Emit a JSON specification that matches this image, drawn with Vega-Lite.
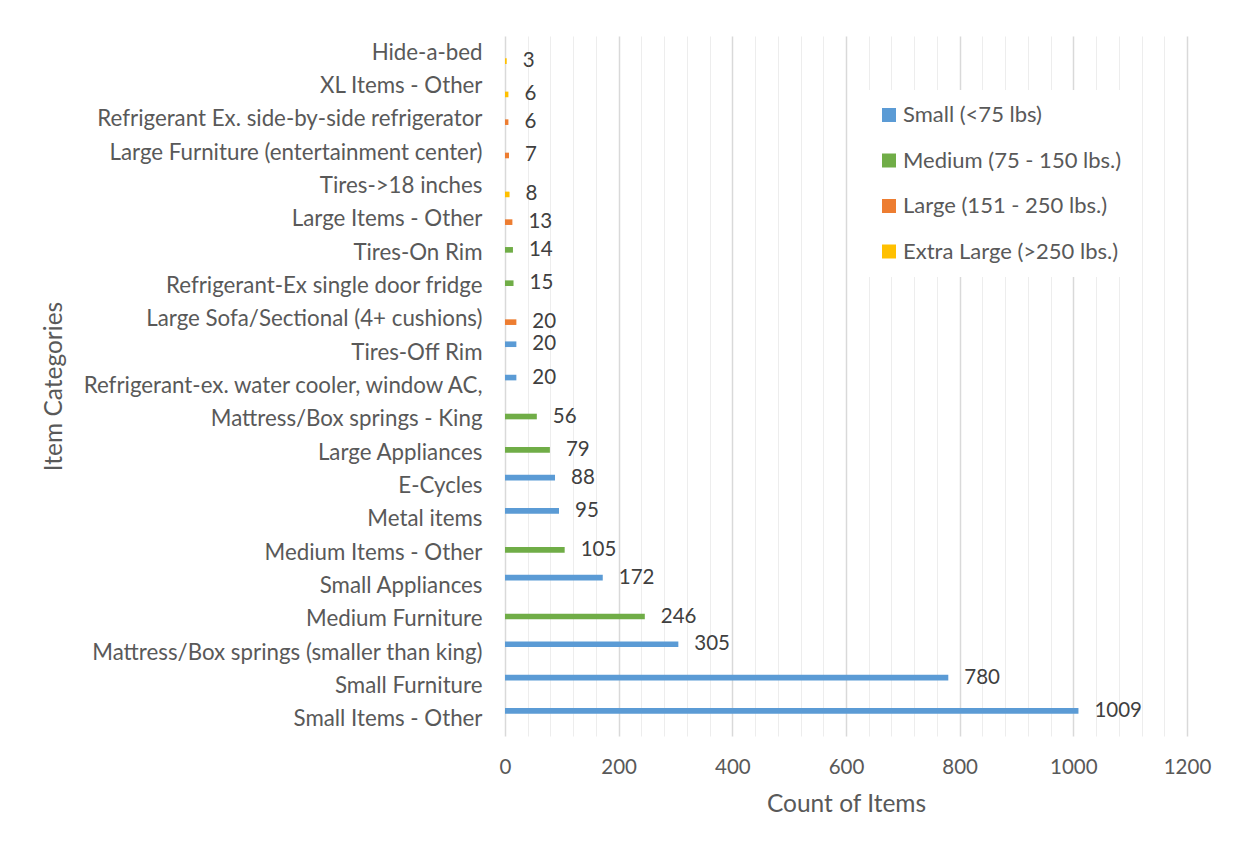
{
  "$schema": "https://vega.github.io/schema/vega-lite/v6.json",
  "width": 682,
  "height": 700,
  "autosize": {"type": "none"},
  "padding": {"left": 505, "top": 36, "right": 65, "bottom": 117},
  "background": "white",
  "config": {
    "font": "Lato",
    "view": {"stroke": null},
    "axis": {
      "labelColor": "#595959",
      "titleColor": "#595959",
      "titleFontWeight": "normal",
      "labelFont": "Lato",
      "titleFont": "Lato"
    }
  },
  "data": {
    "values": [
      {"item": "Hide-a-bed", "count": 3, "size": "Extra Large (>250 lbs.)"},
      {"item": "XL Items - Other", "count": 6, "size": "Extra Large (>250 lbs.)"},
      {"item": "Refrigerant Ex. side-by-side refrigerator", "count": 6, "size": "Large (151 - 250 lbs.)"},
      {"item": "Large Furniture (entertainment center)", "count": 7, "size": "Large (151 - 250 lbs.)"},
      {"item": "Tires->18 inches", "count": 8, "size": "Extra Large (>250 lbs.)"},
      {"item": "Large Items - Other", "count": 13, "size": "Large (151 - 250 lbs.)"},
      {"item": "Tires-On Rim", "count": 14, "size": "Medium (75 - 150 lbs.)"},
      {"item": "Refrigerant-Ex single door fridge", "count": 15, "size": "Medium (75 - 150 lbs.)"},
      {"item": "Large Sofa/Sectional (4+ cushions)", "count": 20, "size": "Large (151 - 250 lbs.)"},
      {"item": "Tires-Off Rim", "count": 20, "size": "Small (<75 lbs)"},
      {"item": "Refrigerant-ex. water cooler, window AC,", "count": 20, "size": "Small (<75 lbs)"},
      {"item": "Mattress/Box springs - King", "count": 56, "size": "Medium (75 - 150 lbs.)"},
      {"item": "Large Appliances", "count": 79, "size": "Medium (75 - 150 lbs.)"},
      {"item": "E-Cycles", "count": 88, "size": "Small (<75 lbs)"},
      {"item": "Metal items", "count": 95, "size": "Small (<75 lbs)"},
      {"item": "Medium Items - Other", "count": 105, "size": "Medium (75 - 150 lbs.)"},
      {"item": "Small Appliances", "count": 172, "size": "Small (<75 lbs)"},
      {"item": "Medium Furniture", "count": 246, "size": "Medium (75 - 150 lbs.)"},
      {"item": "Mattress/Box springs (smaller than king)", "count": 305, "size": "Small (<75 lbs)"},
      {"item": "Small Furniture", "count": 780, "size": "Small (<75 lbs)"},
      {"item": "Small Items - Other", "count": 1009, "size": "Small (<75 lbs)"}
    ]
  },
  "encoding": {
    "y": {
      "field": "item",
      "type": "nominal",
      "sort": null,
      "scale": {"paddingInner": 0.325, "paddingOuter": 0.1625},
      "axis": {
        "title": "Item Categories",
        "titleFontSize": 24.5,
        "titleX": -439,
        "titleY": 350,
        "titleAngle": -90,
        "titleAlign": "center",
        "titleBaseline": "bottom",
        "labelFontSize": 22.3,
        "labelPadding": 23,
        "labelLimit": 600,
        "domain": false,
        "ticks": false,
        "grid": false
      }
    },
    "yOffset": {
      "field": "size",
      "type": "nominal",
      "scale": {
        "domain": ["Small (<75 lbs)", "Medium (75 - 150 lbs.)", "Large (151 - 250 lbs.)", "Extra Large (>250 lbs.)"],
        "paddingInner": 0,
        "paddingOuter": 0
      }
    },
    "x": {
      "field": "count",
      "type": "quantitative",
      "scale": {"domain": [0, 1200], "nice": false},
      "axis": {
        "title": "Count of Items",
        "titleFontSize": 24.5,
        "titlePadding": 15,
        "labelFontSize": 20.5,
        "labelPadding": 21,
        "labelFlush": false,
        "labelOverlap": false,
        "values": [0, 40, 80, 120, 160, 200, 240, 280, 320, 360, 400, 440, 480, 520, 560, 600, 640, 680, 720, 760, 800, 840, 880, 920, 960, 1000, 1040, 1080, 1120, 1160, 1200],
        "labelExpr": "datum.value % 200 === 0 ? datum.label : ''",
        "format": "d",
        "domain": false,
        "ticks": false,
        "grid": true,
        "gridColor": {"condition": {"test": "datum.value % 200 === 0", "value": "#D9D9D9"}, "value": "#EDEDED"},
        "gridWidth": {"condition": {"test": "datum.value % 200 === 0", "value": 1.5}, "value": 1}
      }
    }
  },
  "layer": [
    {
      "mark": {"type": "bar"},
      "encoding": {
        "color": {
          "field": "size",
          "type": "nominal",
          "scale": {
            "domain": ["Small (<75 lbs)", "Medium (75 - 150 lbs.)", "Large (151 - 250 lbs.)", "Extra Large (>250 lbs.)"],
            "range": ["#5B9BD5", "#70AD47", "#ED7D31", "#FFC000"]
          },
          "legend": {
            "title": null,
            "orient": "none",
            "legendX": 359,
            "legendY": 54,
            "fillColor": "white",
            "padding": 14,
            "symbolType": "square",
            "symbolSize": 196,
            "symbolStrokeWidth": 0,
            "labelFontSize": 22,
            "labelColor": "#595959",
            "labelOffset": 3,
            "labelLimit": 400,
            "rowPadding": 23.5
          }
        }
      }
    },
    {
      "mark": {"type": "text", "align": "left", "baseline": "middle", "dx": 16, "fontSize": 20.5, "color": "#404040"},
      "encoding": {"text": {"field": "count", "type": "quantitative", "format": "d"}}
    }
  ]
}
